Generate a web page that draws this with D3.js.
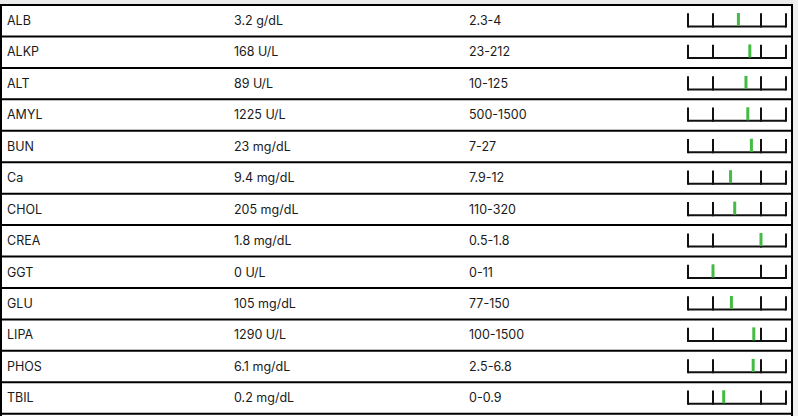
<!DOCTYPE html>
<html>
<head>
<meta charset="utf-8">
<script src="https://cdn.jsdelivr.net/npm/d3@7"></script>
<style>
  html, body { margin: 0; padding: 0; background: #fff; }
  svg { display: block; }
  text { font-family: Inter, "Noto Sans", sans-serif; font-size: 12.5px; fill: #1a1a1a; }
</style>
</head>
<body>
<script>
// lab panel values
var tests  = ["ALB", "ALKP", "ALT", "AMYL", "BUN", "Ca", "CHOL", "CREA", "GGT", "GLU", "LIPA", "PHOS", "TBIL"];
var values = [3.2, 168, 89, 1225, 23, 9.4, 205, 1.8, 0, 105, 1290, 6.1, 0.2];
var units  = ["g/dL", "U/L", "U/L", "U/L", "mg/dL", "mg/dL", "mg/dL", "mg/dL", "U/L", "mg/dL", "U/L", "mg/dL", "mg/dL"];
var lows   = [2.3, 23, 10, 500, 7, 7.9, 110, 0.5, 0, 77, 100, 2.5, 0];
var highs  = [4, 212, 125, 1500, 27, 12, 320, 1.8, 11, 150, 1500, 6.8, 0.9];

var rows = tests.map(function(t, i) {
  return {name: t, value: values[i], unit: units[i], low: lows[i], high: highs[i]};
});

var W = 798, H = 416;
var top0 = 5, rowH = 31.44, right = 792;

var svg = d3.select("body").append("svg")
  .attr("width", W)
  .attr("height", H);

// page chrome: grey strip on top, scrollbar on the right
svg.append("rect").attr("x", 0).attr("y", 0).attr("width", W).attr("height", 4).attr("fill", "#ebebeb");
svg.append("rect").attr("x", right + 1).attr("y", 0).attr("width", W - right - 1).attr("height", H).attr("fill", "#efefef");

var y = d3.scaleLinear().domain([0, rows.length]).range([top0, top0 + rows.length * rowH]);

// gauge frame: outer end, low ref, high ref, outer end
var gx = d3.scaleLinear().domain([0, 1, 2, 3]).range([688, 713, 761, 786]);

var row = svg.selectAll(".row")
  .data(rows)
  .enter()
  .append("g")
    .attr("class", "row")
    .attr("transform", (d, i) => "translate(0," + y(i) + ")");

row.append("text").attr("x", 7).attr("y", 20).text(d => d.name);
row.append("text").attr("x", 234).attr("y", 20).text(d => d.value + " " + d.unit);
row.append("text").attr("x", 469).attr("y", 20).text(d => d.low + "-" + d.high);

// gauge baseline + ticks
row.append("line")
  .attr("x1", gx(0)).attr("x2", gx(3))
  .attr("y1", 21.5).attr("y2", 21.5)
  .attr("stroke", "#111").attr("stroke-width", 2);

row.selectAll(".tick")
  .data([0, 1, 2, 3])
  .enter()
  .append("line")
    .attr("x1", d => gx(d)).attr("x2", d => gx(d))
    .attr("y1", 8.3).attr("y2", 22.5)
    .attr("stroke", "#111").attr("stroke-width", 2);

// value marker
row.append("rect")
  .attr("x", d => d3.scaleLinear().domain([d.low, d.high]).range([gx(1), gx(2)]).clamp(true)(d.value) - 1.5)
  .attr("y", 8)
  .attr("width", 3)
  .attr("height", 13)
  .attr("fill", "#44bb44");

// grid lines
svg.selectAll(".hline")
  .data(d3.range(rows.length + 1))
  .enter()
  .append("line")
    .attr("x1", 0).attr("x2", right + 1)
    .attr("y1", d => y(d)).attr("y2", d => y(d))
    .attr("stroke", "#000").attr("stroke-width", 2);

svg.append("line").attr("x1", 1).attr("x2", 1).attr("y1", 4).attr("y2", H).attr("stroke", "#000").attr("stroke-width", 2);
svg.append("line").attr("x1", right).attr("x2", right).attr("y1", 4).attr("y2", H).attr("stroke", "#000").attr("stroke-width", 2);
</script>
</body>
</html>
